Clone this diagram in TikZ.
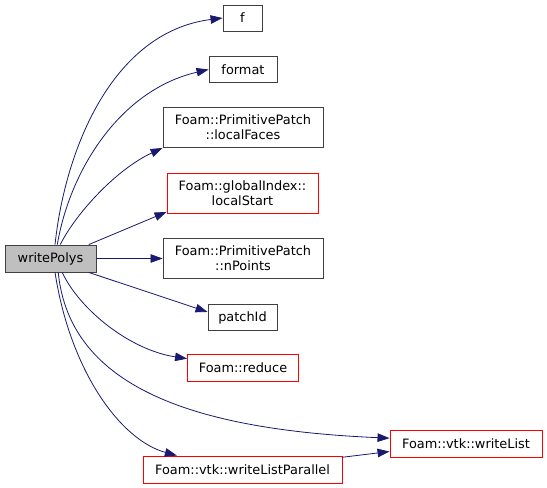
\documentclass[tikz,border=0pt]{standalone}
\usepackage{fontspec}
\setsansfont{DejaVu Sans}
\usepackage{tikz}
\usetikzlibrary{arrows.meta}
\definecolor{edgeblue}{HTML}{191970}
\definecolor{frame}{HTML}{404040}
\definecolor{callred}{HTML}{FF0000}
\definecolor{rootgray}{HTML}{BFBFBF}
\tikzset{
  font=\sffamily\fontsize{12.9}{15}\selectfont,
  fn/.style={draw=frame, fill=white, line width=0.9pt, inner sep=0pt, align=center, minimum height=26pt},
  fnlink/.style={fn, draw=callred},
  root/.style={fn, fill=rootgray, minimum height=27pt},
  twoline/.style={minimum height=40pt},
  call/.style={-{Triangle[length=12pt,width=8.5pt]}, draw=edgeblue, line width=0.8pt}
}
\begin{document}
\begin{tikzpicture}[x=1pt, y=-1pt]
  \useasboundingbox (0,0) rectangle (547,488);

  \node[root, minimum width=91pt] (wp) at (50.5,258.5) {writePolys};

  \node[fn, minimum width=39pt] (f) at (242.5,18) {f};
  \node[fn, minimum width=68pt] (format) at (243,69.5) {format};
  \node[fn, twoline, minimum width=160pt] (lf) at (243,127.5) {Foam::PrimitivePatch\\::localFaces};
  \node[fnlink, twoline, minimum width=151pt] (ls) at (242.5,193) {Foam::globalIndex::\\localStart};
  \node[fn, twoline, minimum width=160pt] (np) at (243,258.5) {Foam::PrimitivePatch\\::nPoints};
  \node[fn, minimum width=69pt] (pid) at (242.5,317.5) {patchId};
  \node[fnlink, minimum width=111pt, minimum height=27pt] (rd) at (243,367.5) {Foam::reduce};
  \node[fnlink, minimum width=152pt, minimum height=27pt] (wl) at (466,443.5) {Foam::vtk::writeList};
  \node[fnlink, minimum width=199pt, minimum height=27pt] (wlp) at (242.5,469.5) {Foam::vtk::writeListParallel};

  \draw[call] (wp.72) .. controls (65,150) and (112,32) .. (f.west);
  \draw[call] (wp.64) .. controls (70,170) and (120,90) .. (format.west);
  \draw[call] (wp.55) .. controls (75,215) and (115,170) .. (lf.south west);
  \draw[call] (wp.20) -- (ls.194);
  \draw[call] (wp.east) -- (np.west);
  \draw[call] (wp.-20) -- (pid.171);
  \draw[call] (wp.-50) .. controls (80,310) and (130,350) .. (rd.171);
  \draw[call] (wp.-61) .. controls (70,390) and (200,430) .. (wl.176);
  \draw[call] (wp.-72) .. controls (70,370) and (120,440) .. (wlp.168);
  \draw[call] (wlp.7) -- (wl.186);
\end{tikzpicture}
\end{document}
